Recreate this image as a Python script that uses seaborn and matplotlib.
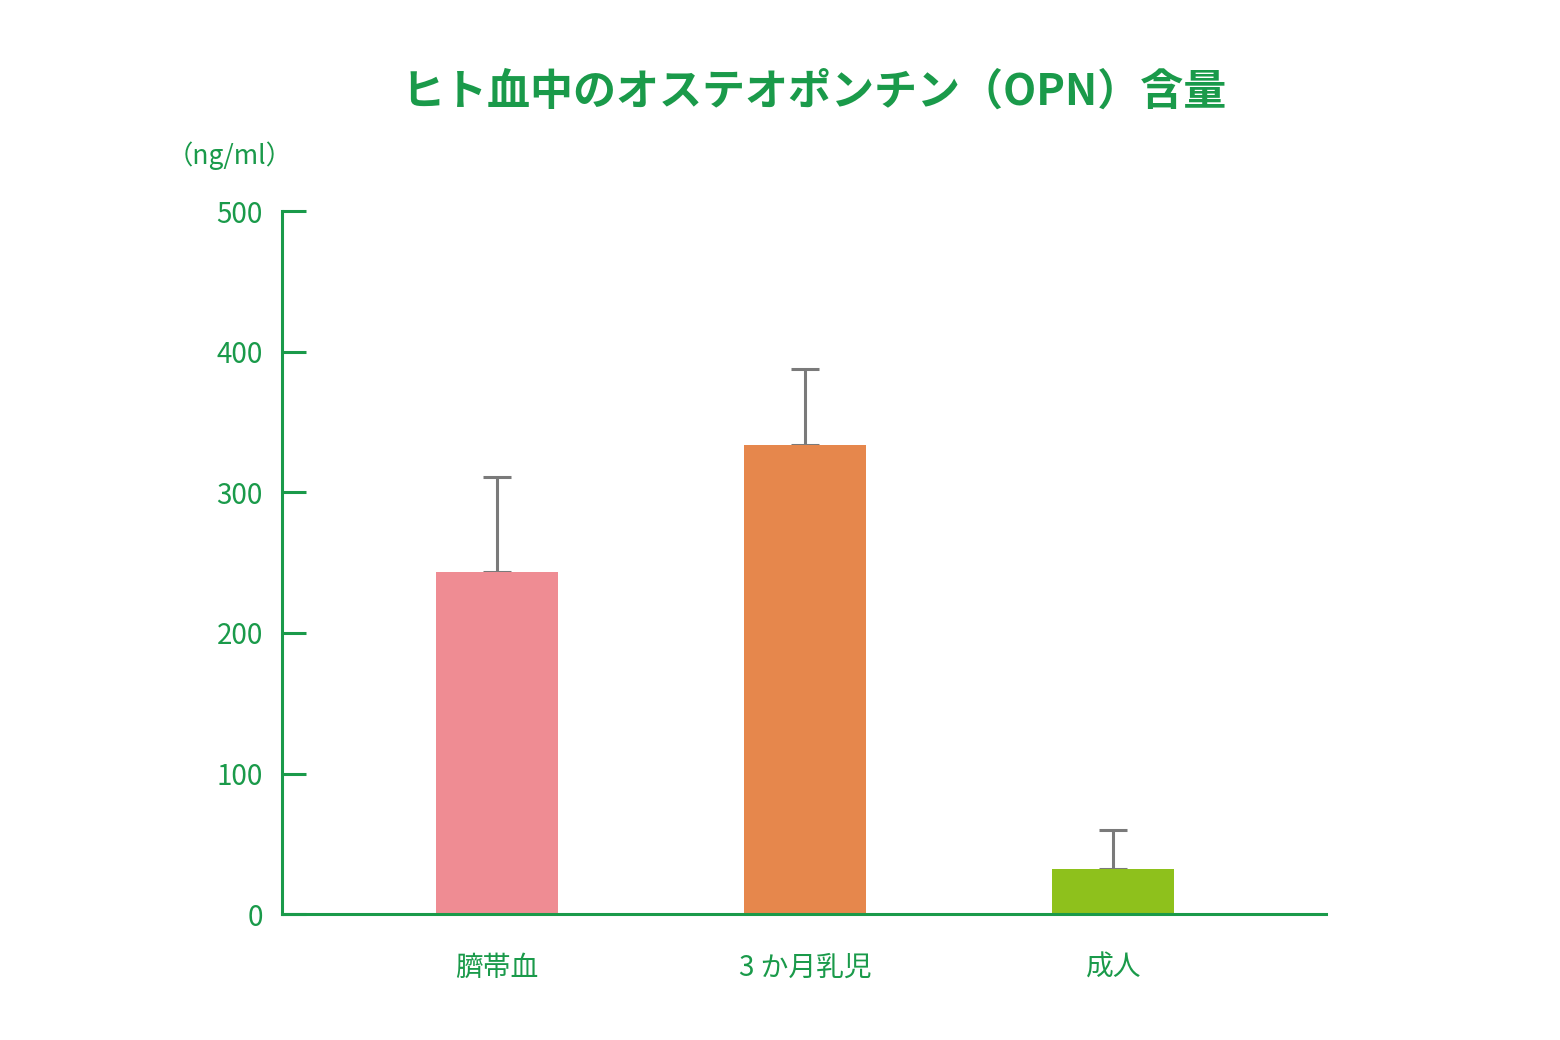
import numpy as np
import pandas as pd
import matplotlib.pyplot as plt
import seaborn as sns

categories = ["臍帯血", "3 か月乳児", "成人"]
means = [243, 334, 32]
upper_err = [68, 54, 28]
bar_colors = ["#ff7b85", "#ff8133", "#99dd00"]

GREEN = "#1a9a4a"
plt.rcParams["font.family"] = "Noto Sans CJK JP"

df = pd.DataFrame({"group": categories, "value": means})

fig = plt.figure(figsize=(15.6, 10.4), dpi=100)
ax = fig.add_axes([0.181, 0.121, 0.669, 0.676])
sns.barplot(data=df, x="group", y="value", hue="group", palette=bar_colors,
            width=0.396, legend=False, ax=ax, zorder=2)
ax.errorbar(np.arange(len(means)), means,
            yerr=[np.zeros(len(means)), upper_err],
            fmt="none", ecolor="#7a7a7a", elinewidth=2.2, capsize=10, capthick=2.2, zorder=1)

ax.set_xlim(-0.695, 2.69)
ax.set_ylim(0, 500)
ax.set_yticks([0, 100, 200, 300, 400, 500])
ax.set_xlabel("")
ax.set_ylabel("")
for s in ["top", "right"]:
    ax.spines[s].set_visible(False)
for s in ["left", "bottom"]:
    ax.spines[s].set_color(GREEN)
    ax.spines[s].set_linewidth(2.2)
ax.tick_params(axis="y", direction="in", length=17, width=2.2, color=GREEN,
               labelcolor=GREEN, labelsize=20, pad=14)
ax.tick_params(axis="x", length=0, labelcolor=GREEN, labelsize=20, pad=28)

fig.text(0.147, 0.85, "（ng/ml）", color=GREEN, fontsize=19, ha="center", va="center")
fig.text(0.522, 0.912, "ヒト血中のオステオポンチン（OPN）含量", color=GREEN,
         fontsize=31, fontweight="bold", ha="center", va="center")

fig.savefig("out.png", dpi=100)
